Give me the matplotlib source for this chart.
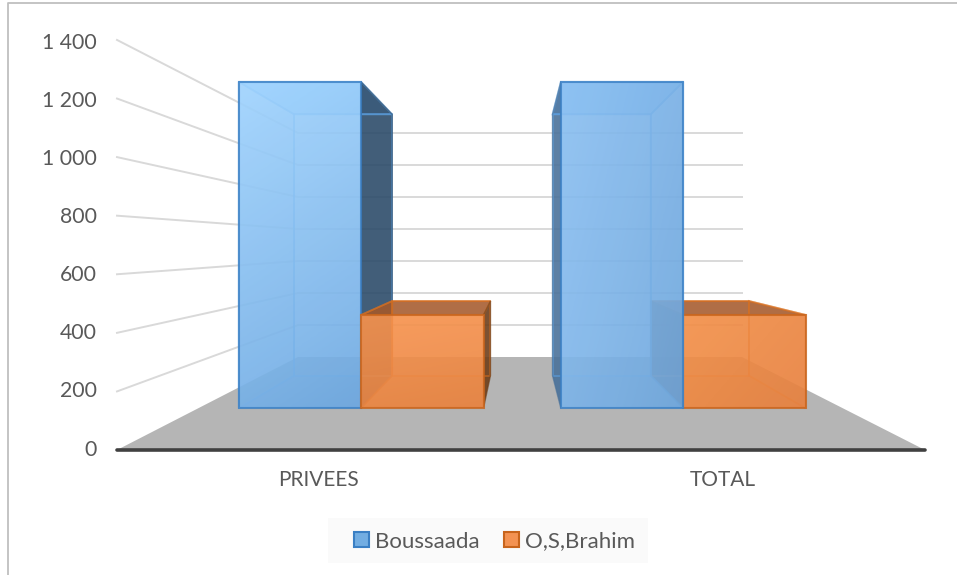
import numpy as np
import matplotlib
matplotlib.use("Agg")
import matplotlib.pyplot as plt
from matplotlib.patches import Polygon, Patch, Rectangle
from matplotlib.colors import to_rgb

plt.rcParams["font.family"] = ["Lato", "DejaVu Sans"]

# =============================
# DATA
# =============================
categories = ["PRIVEES", "TOTAL"]
series_names = ["Boussaada", "O,S,Brahim"]
boussaada = [1400, 1400]
os_brahim = [400, 400]
y_ticks = [0, 200, 400, 600, 800, 1000, 1200, 1400]
y_labels = ["0", "200", "400", "600", "800", "1 000", "1 200", "1 400"]

# =============================
# FAKE 3D SCENE (pixel coords of the box)
# =============================
FRONT_L, FRONT_R, FRONT_Y0, FRONT_K = 117, 925, 450, 0.2929
BACK_L, BACK_R, BACK_Y0, BACK_K = 298, 742, 357, 0.16
T_FRONT, T_BACK = 0.45, 0.80
BAR_W, GAP = 0.19, 0.0625


def project(frac, value, t):
    left = FRONT_L + (BACK_L - FRONT_L) * t
    right = FRONT_R + (BACK_R - FRONT_R) * t
    y_f = FRONT_Y0 - FRONT_K * value
    y_b = BACK_Y0 - BACK_K * value
    return left + frac * (right - left), y_f * (1 - t) + y_b * t


fig = plt.figure(figsize=(9.57, 5.75), dpi=100)
ax = fig.add_axes([0, 0, 1, 1])
ax.axis("off")

# chart border
ax.plot([8, 8, 957], [575, 3, 3], color="#bfbfbf", lw=1.3, zorder=1)

# floor
ax.add_patch(Polygon([project(0, 0, 0), project(1, 0, 0), project(1, 0, 1), project(0, 0, 1)],
                     closed=True, fc="#b5b5b5", ec="none", zorder=1))

# grid lines, left wall + back wall
for v in y_ticks[1:]:
    pts = [project(0, v, 0), project(0, v, 1), project(1, v, 1)]
    ax.plot([p[0] for p in pts], [p[1] for p in pts], color="#d9d9d9", lw=1.4, zorder=1)

# axis line
ax.plot([FRONT_L, FRONT_R], [FRONT_Y0, FRONT_Y0], color="#404040", lw=2.6,
        solid_capstyle="round", zorder=2)

for v, lab in zip(y_ticks, y_labels):
    ax.text(97, 449.5 - 0.2907 * v, lab, ha="right", va="center", fontsize=15.3, color="#595959")

for i, c in enumerate(categories):
    x = project((i + 0.5) / len(categories), 0, 0)[0]
    ax.text(x, 480, c, ha="center", va="center", fontsize=15, color="#595959")

# =============================
# BARS
# =============================
styles = [
    {"edge": "#3a7fc4", "inner": "#5ea5e8", "dark": ["#2b4a68", "#4a7199"], "top": "#9fd3ff",
     "grads": [("#a2d5ff", "#6ea9e2"), ("#8bc0f2", "#70a8de")]},
    {"edge": "#c8641c", "inner": "#d9701f", "dark": ["#6b3d1a", "#6b3d1a"], "top": "#a4582a",
     "grads": [("#f8944f", "#ea8440"), ("#f49048", "#e88240")]},
]
grad_weights = [(0.8, 0.2), (0.4, 0.6)]

bars = []
for i in range(len(categories)):
    for s, vals in enumerate([boussaada, os_brahim]):
        x0 = i * 0.5 + GAP + s * BAR_W
        bars.append((i, s, x0, x0 + BAR_W, vals[i]))

# outer bars first, the ones near the middle go on top
bars.sort(key=lambda b: -abs((b[2] + b[3]) / 2 - 0.5))

z = 3
for i, s, x0, x1, v in bars:
    st = styles[s]
    edge = st["edge"]
    back = [project(x0, v, T_BACK), project(x1, v, T_BACK), project(x1, 0, T_BACK), project(x0, 0, T_BACK)]
    front = [project(x0, v, T_FRONT), project(x1, v, T_FRONT), project(x1, 0, T_FRONT), project(x0, 0, T_FRONT)]
    left = [front[0], back[0], back[3], front[3]]
    right = [front[1], back[1], back[2], front[2]]
    top = [front[0], front[1], back[1], back[0]]
    bottom = [front[3], front[2], back[2], back[3]]

    # side facing the middle of the chart is the dark one
    if (x0 + x1) / 2 < 0.5:
        dark_side, light_side = right, left
    else:
        dark_side, light_side = left, right

    ax.add_patch(Polygon(back, closed=True, fc=edge, alpha=0.12, ec="none", zorder=z))
    ax.add_patch(Polygon(bottom, closed=True, fc=edge, alpha=0.25, ec="none", zorder=z))
    ax.add_patch(Polygon(light_side, closed=True, fc=edge, alpha=0.18, ec="none", zorder=z))
    ax.add_patch(Polygon(top, closed=True, fc=st["top"], alpha=0.85, ec="none", zorder=z))
    ax.add_patch(Polygon(dark_side, closed=True, fc=st["dark"][i], alpha=0.88, ec="none", zorder=z))
    for poly in (back, light_side, top):
        ax.add_patch(Polygon(poly, closed=True, fc="none", ec=st["inner"], lw=1.3, alpha=0.55, zorder=z))
    ax.add_patch(Polygon(dark_side, closed=True, fc="none", ec=st["dark"][i], lw=1.0, alpha=0.6, zorder=z))

    # front face with gradient
    c0, c1 = [np.array(to_rgb(c)) for c in st["grads"][i]]
    n = 64
    yy, xx = np.mgrid[0:1:n * 1j, 0:1:n * 1j]
    w = grad_weights[i][0] * yy + grad_weights[i][1] * xx
    img = np.dstack([c0[k] + (c1[k] - c0[k]) * w for k in range(3)] + [np.full_like(w, 0.9)])
    xs = [p[0] for p in front]
    ys = [p[1] for p in front]
    im = ax.imshow(img, extent=[min(xs), max(xs), max(ys), min(ys)], aspect="auto", zorder=z + 0.1)
    clip = Polygon(front, closed=True, transform=ax.transData, fc="none", ec="none")
    im.set_clip_path(clip)
    ax.add_patch(Polygon(front, closed=True, fc="none", ec=edge, lw=1.5, alpha=0.8, zorder=z + 0.2))
    z += 1

ax.set_xlim(0, 957)
ax.set_ylim(575, 0)

# =============================
# LEGEND
# =============================
ax.add_patch(Rectangle((328, 518), 320, 45, fc="#fafafa", ec="none", zorder=20))
handles = [
    Patch(facecolor="#72ade2", edgecolor="#3a7fc4", lw=1.5, label=series_names[0]),
    Patch(facecolor="#f39252", edgecolor="#c8641c", lw=1.5, label=series_names[1]),
]
leg = ax.legend(handles=handles, loc="center", bbox_to_anchor=(494.5, 541.5), bbox_transform=ax.transData,
                ncol=2, fontsize=16, frameon=False, handlelength=0.68, handleheight=0.68,
                handletextpad=0.27, columnspacing=1.08, labelcolor="#595959")
leg.set_zorder(30)

fig.savefig("out.png", dpi=100)
